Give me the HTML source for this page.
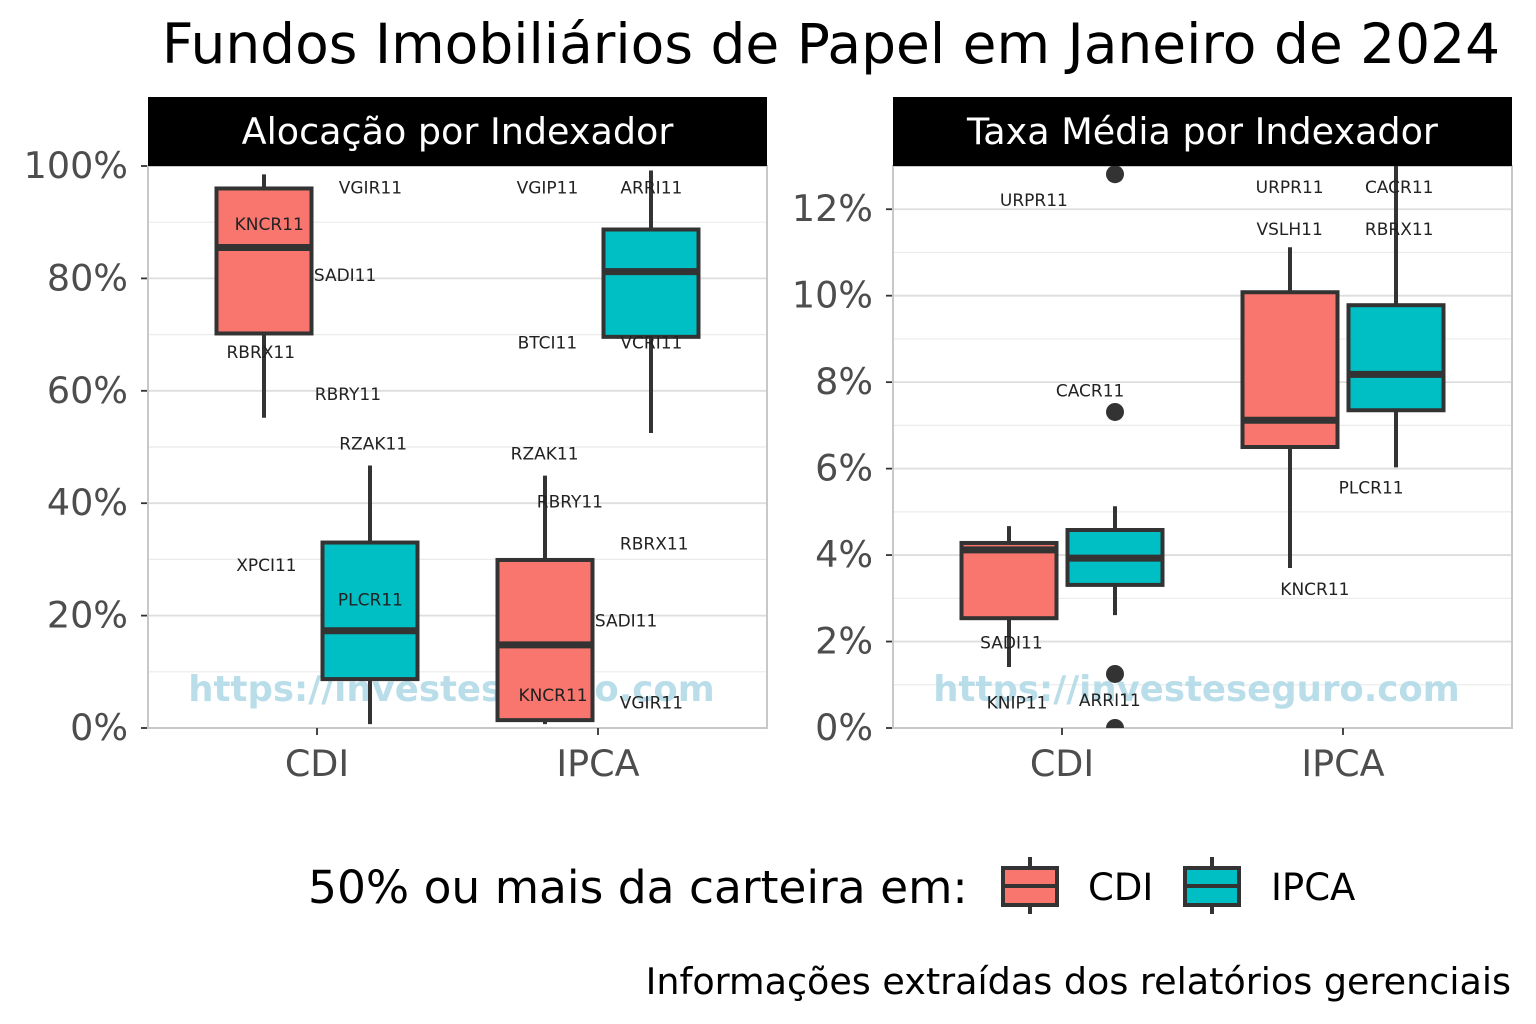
<!DOCTYPE html>
<html><head><meta charset="utf-8"><style>
html,body{margin:0;padding:0;background:#fff;}
svg{display:block;font-family:"DejaVu Sans","Liberation Sans",sans-serif;}
</style></head><body>
<svg id="chart" width="1536" height="1024" viewBox="0 0 1536 1024">
<text x="831" y="63" text-anchor="middle" font-size="55" fill="#000">Fundos Imobiliários de Papel em Janeiro de 2024</text>
<g id="panels"></g>
<g>
<text x="308" y="903" font-size="45.5" fill="#000">50% ou mais da carteira em:</text>
<g>
<line x1="1030" y1="857" x2="1030" y2="914" stroke="#333" stroke-width="4"/>
<rect x="1003" y="868" width="54" height="37" fill="#F8766D" stroke="#333" stroke-width="4"/>
<line x1="1003" y1="886" x2="1057" y2="886" stroke="#333" stroke-width="4"/>
<text x="1088" y="900" font-size="37" fill="#000">CDI</text></g>
<g>
<line x1="1212" y1="857" x2="1212" y2="914" stroke="#333" stroke-width="4"/>
<rect x="1185" y="868" width="54" height="37" fill="#00BFC4" stroke="#333" stroke-width="4"/>
<line x1="1185" y1="886" x2="1239" y2="886" stroke="#333" stroke-width="4"/>
<text x="1271" y="900" font-size="37" fill="#000">IPCA</text></g>
</g>
<text x="1511" y="994" text-anchor="end" font-size="36.5" fill="#000">Informações extraídas dos relatórios gerenciais</text>
</svg>
<script>
const categories = ["CDI","IPCA"];
const groups = ["CDI","IPCA"];
// Left panel: allocation (%) — [whiskerLow, q1, median, q3, whiskerHigh] per category x group
const allocStats = [
  [[55.2,70.2,85.5,96.0,98.5],[0.7,8.7,17.3,33.0,46.7]],
  [[0.7,1.4,14.8,29.9,44.9],[52.5,69.6,81.2,88.7,99.2]]
];
const allocOutliers = [[[],[]],[[],[]]];
const allocTicks = [0,20,40,60,80,100];
// labels: [text, category index, offset in band units, value]
const allocLabels = [
  ["VGIR11",0,0.19,96.2],["KNCR11",0,-0.17,89.7],["SADI11",0,0.10,80.6],["RBRX11",0,-0.20,66.9],
  ["RBRY11",0,0.11,59.4],["RZAK11",0,0.20,50.6],["XPCI11",0,-0.18,29.0],["PLCR11",0,0.19,22.9],
  ["VGIP11",1,-0.18,96.2],["ARRI11",1,0.19,96.2],["BTCI11",1,-0.18,68.6],["VCRI11",1,0.19,68.6],
  ["RZAK11",1,-0.19,48.8],["RBRY11",1,-0.10,40.3],["RBRX11",1,0.20,32.8],["SADI11",1,0.10,19.1],
  ["KNCR11",1,-0.16,5.9],["VGIR11",1,0.19,4.5]
];
// Right panel: rate (%)
const rateStats = [
  [[1.41,2.54,4.12,4.28,4.67],[2.61,3.31,3.93,4.58,5.13]],
  [[3.7,6.5,7.12,10.08,11.12],[6.03,7.35,8.18,9.78,13.5]]
];
const rateOutliers = [[[],[12.81,7.31,1.25,0]],[[],[]]];
const rateTicks = [0,2,4,6,8,10,12];
const rateLabels = [
  ["URPR11",0,-0.10,12.21],["CACR11",0,0.10,7.81],["SADI11",0,-0.18,1.98],["KNIP11",0,-0.16,0.59],
  ["ARRI11",0,0.17,0.65],["URPR11",1,-0.19,12.51],["CACR11",1,0.20,12.51],["VSLH11",1,-0.19,11.54],
  ["RBRX11",1,0.20,11.54],["PLCR11",1,0.10,5.56],["KNCR11",1,-0.10,3.22]
];
const NS="http://www.w3.org/2000/svg";
const root=document.getElementById('panels');
function mk(tag,attrs,parent){const e=document.createElementNS(NS,tag);for(const k in attrs)e.setAttribute(k,attrs[k]);parent.appendChild(e);return e;}
const fills=["#F8766D","#00BFC4"];
function panel(cfg){
  const g=mk('g',{},root);
  
  
  const x0=cfg.x0,x1=cfg.x0+619,yT=166,yB=728;
  const y=v=>yB-(v-cfg.min)/(cfg.max-cfg.min)*(yB-yT);
  const band=281, c0=(x0+x1)/2-band/2;
  const xc=i=>c0+i*band;
  const clip=mk('clipPath',{id:'clip'+cfg.x0},g);
  mk('rect',{x:x0,y:yT,width:619,height:yB-yT},clip);
  for(let i=0;i<cfg.ticks.length;i++){
    const t=cfg.ticks[i];
    if(i>0){const m=(t+cfg.ticks[i-1])/2;const ml=mk('line',{x1:x0,x2:x1,y1:y(m),y2:y(m),stroke:'#ebebeb','stroke-width':1.2},g);}
    const gl=mk('line',{x1:x0,x2:x1,y1:y(t),y2:y(t),stroke:'#dedede','stroke-width':1.8},g);
    
    const tk=mk('line',{x1:x0-7,x2:x0,y1:y(t),y2:y(t),stroke:'#333','stroke-width':1.8},g);
    
    const tl=mk('text',{x:x0-20,y:y(t)+12,'text-anchor':'end','font-size':36.5,fill:'#4d4d4d'},g);
    tl.textContent=t+'%';
    
  }
  {const last=cfg.ticks[cfg.ticks.length-1]+(cfg.ticks[1]-cfg.ticks[0])/2;if(last<cfg.max){const ml=mk('line',{x1:x0,x2:x1,y1:y(last),y2:y(last),stroke:'#ebebeb','stroke-width':1.2},g);}}
  const bd=mk('rect',{x:x0,y:yT,width:619,height:yB-yT,fill:'none',stroke:'#c8c8c8','stroke-width':2},g);
  
  const hd=mk('rect',{x:x0,y:97,width:619,height:69,fill:'#000'},g);
  
  const ht=mk('text',{x:(x0+x1)/2,y:144,'text-anchor':'middle','font-size':36.5,fill:'#fff'},g);
  ht.textContent=cfg.title;
  categories.forEach((c,i)=>{
    const t=mk('line',{x1:xc(i),x2:xc(i),y1:yB,y2:yB+7,stroke:'#333','stroke-width':1.8},g);
    
    const l=mk('text',{x:xc(i),y:776,'text-anchor':'middle','font-size':36.5,fill:'#4d4d4d'},g);
    l.textContent=c;
  });
  const wm=mk('text',{x:(x0+x1)/2-6,y:701,'text-anchor':'middle','font-size':35.5,'font-weight':'bold',fill:'#add8e6','fill-opacity':0.85},g);
  wm.textContent='https://investeseguro.com';
  const plot=mk('g',{'clip-path':'url(#clip'+cfg.x0+')'},g);
  const bw=95, off=53;
  categories.forEach((c,i)=>{groups.forEach((gr,j)=>{
    const s=cfg.stats[i][j];const cx=xc(i)+(j===0?-off:off);
    const bg=mk('g',{},plot);
    
    mk('line',{x1:cx,x2:cx,y1:y(s[0]),y2:y(s[4]),stroke:'#333','stroke-width':4},bg);
    mk('rect',{x:cx-bw/2,y:y(s[3]),width:bw,height:y(s[1])-y(s[3]),fill:fills[j],stroke:'#333','stroke-width':4},bg);
    mk('line',{x1:cx-bw/2,x2:cx+bw/2,y1:y(s[2]),y2:y(s[2]),stroke:'#333','stroke-width':7},bg);
    cfg.outliers[i][j].forEach(v=>{
      const p=mk('circle',{cx:cx,cy:y(v),r:9,fill:'#333'},plot);
      
    });
  });});
  cfg.labels.forEach(L=>{
    const t=mk('text',{x:xc(L[1])+L[2]*band,y:y(L[3])+6,'text-anchor':'middle','font-size':17,fill:'#222'},g);
    t.textContent=L[0];
  });
}
panel({name:'allocation-panel',title:'Alocação por Indexador',x0:148,min:0,max:100,ticks:allocTicks,stats:allocStats,outliers:allocOutliers,labels:allocLabels});
panel({name:'rate-panel',title:'Taxa Média por Indexador',x0:893,min:0,max:13,ticks:rateTicks,stats:rateStats,outliers:rateOutliers,labels:rateLabels});
</script>
</body></html>
